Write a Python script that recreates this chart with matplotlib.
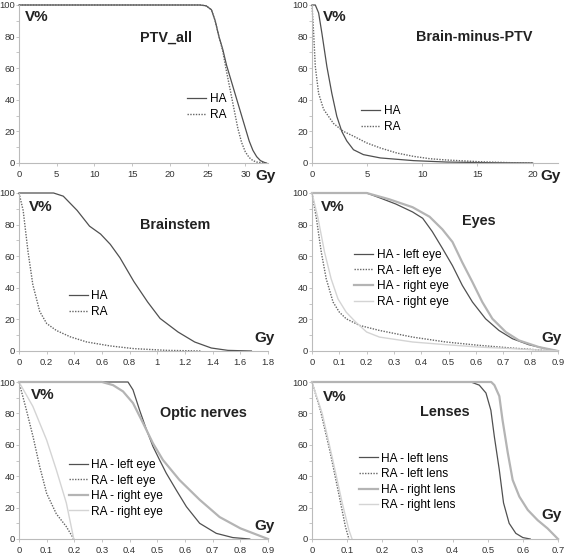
import numpy as np
import matplotlib
matplotlib.use("Agg")
import matplotlib.pyplot as plt

plt.rcParams['font.family'] = ['Liberation Sans', 'DejaVu Sans']

# --- PTV_all
ptv_ha_x = [0, 24, 24.8, 25.5, 26, 26.5, 27, 27.5, 28, 28.5, 29, 29.5, 30, 30.5, 31, 31.5, 32, 32.5, 32.8]
ptv_ha_y = [100, 100, 99.5, 97, 90, 80, 72, 62, 54, 46, 38, 30, 22, 14, 8, 4, 1.5, 0.4, 0]
ptv_ra_x = [0, 24, 24.8, 25.5, 26, 26.5, 27, 27.5, 28, 28.5, 29, 29.5, 30, 30.5, 31, 31.5, 32.5]
ptv_ra_y = [100, 100, 99.5, 97, 90, 80, 71, 58, 46, 34, 22, 13, 7, 3.5, 1.5, 0.6, 0]

# --- Brain-minus-PTV
bm_ha_x = [0, 0.3, 0.6, 0.9, 1.35, 1.8, 2.25, 2.7, 3.15, 3.76, 4.66, 6.2, 9.2, 12.2, 16, 20]
bm_ha_y = [100, 100, 95, 82, 61, 44, 29.5, 20, 14, 8.4, 5.3, 3.2, 1.5, 0.6, 0.2, 0]
bm_ra_x = [0, 0.15, 0.3, 0.6, 1.05, 1.95, 2.85, 3.76, 4.96, 6.2, 7.7, 9.2, 10.7, 12.2, 15.2, 18, 20]
bm_ra_y = [100, 82, 61, 44, 34, 25, 20, 17, 12.7, 9.5, 6.3, 4.2, 2.7, 1.9, 0.8, 0.2, 0]

# --- Brainstem
bs_ha_x = [0, 0.25, 0.32, 0.42, 0.51, 0.59, 0.66, 0.73, 0.83, 0.93, 1.02, 1.15, 1.27, 1.39, 1.51, 1.68]
bs_ha_y = [100, 100, 98, 89, 79, 74, 67.5, 59, 44, 31, 20.6, 12, 5.7, 1.9, 0.4, 0]
bs_ra_x = [0, 0.03, 0.065, 0.1, 0.15, 0.2, 0.27, 0.37, 0.49, 0.66, 0.83, 1.07, 1.32]
bs_ra_y = [100, 89, 63, 42, 25, 17.4, 13, 9, 5.7, 3.2, 1.5, 0.4, 0]

# --- Eyes
eye_ha_l_x = [0, 0.2, 0.247, 0.307, 0.368, 0.405, 0.44, 0.477, 0.514, 0.55, 0.587, 0.635, 0.684, 0.733, 0.793, 0.854, 0.9]
eye_ha_l_y = [100, 100, 97, 93, 88, 84, 75.6, 65, 54, 41.5, 31, 20.4, 13, 7.8, 4, 1.5, 0]
eye_ra_l_x = [0, 0.016, 0.034, 0.052, 0.077, 0.1, 0.125, 0.174, 0.247, 0.368, 0.49, 0.61, 0.73, 0.854, 0.9]
eye_ra_l_y = [100, 84, 62.5, 45.7, 31, 24.6, 20.4, 16.2, 13, 8.8, 5.7, 3.6, 1.9, 0.4, 0]
eye_ha_r_x = [0, 0.2, 0.283, 0.368, 0.43, 0.477, 0.514, 0.55, 0.587, 0.623, 0.66, 0.709, 0.757, 0.83, 0.9]
eye_ha_r_y = [100, 100, 96, 91, 85, 77, 69, 56, 43.6, 31, 20.4, 12, 6.7, 2.5, 0]
eye_ra_r_x = [0, 0.022, 0.046, 0.07, 0.095, 0.125, 0.16, 0.2, 0.247, 0.368, 0.49, 0.61, 0.73, 0.9]
eye_ra_r_y = [100, 84, 62.5, 45.7, 33, 24.6, 18.3, 12, 8.8, 5.7, 4, 2.5, 1.5, 0]

# --- Optic nerves
on_ha_l_x = [0, 0.394, 0.412, 0.436, 0.46, 0.484, 0.508, 0.532, 0.569, 0.605, 0.653, 0.713, 0.773, 0.834]
on_ha_l_y = [100, 100, 95, 82, 70, 59, 50.4, 42, 31, 20.6, 10, 3.6, 0.9, 0]
on_ra_l_x = [0, 0.027, 0.051, 0.075, 0.1, 0.135, 0.171, 0.198]
on_ra_l_y = [100, 82, 65, 46, 29, 16, 7.9, 0]
on_ha_r_x = [0, 0.3, 0.34, 0.376, 0.412, 0.448, 0.484, 0.52, 0.58, 0.653, 0.725, 0.8, 0.9]
on_ha_r_y = [100, 100, 98, 94, 86.6, 74, 61, 50.4, 37.6, 25, 14, 6.8, 0]
on_ra_r_x = [0, 0.05, 0.1, 0.135, 0.171, 0.198]
on_ra_r_y = [100, 84.5, 63, 44, 23, 0]

# --- Lenses
ln_ha_l_x = [0, 0.452, 0.476, 0.495, 0.509, 0.519, 0.533, 0.545, 0.561, 0.58, 0.6, 0.621]
ln_ha_l_y = [100, 100, 98, 93, 82, 65, 44, 23, 10, 3.6, 0.9, 0]
ln_ra_l_x = [0, 0.024, 0.052, 0.076, 0.095, 0.105]
ln_ra_l_y = [100, 82, 55, 29, 8, 0]
ln_ha_r_x = [0, 0.51, 0.519, 0.533, 0.542, 0.557, 0.571, 0.59, 0.614, 0.642, 0.67, 0.7]
ln_ha_r_y = [100, 100, 98, 91, 76, 55, 37.6, 27, 18.5, 12, 6.8, 0]
ln_ra_r_x = [0, 0.029, 0.057, 0.086, 0.105, 0.114]
ln_ra_r_y = [100, 80, 52.5, 23, 5.7, 0]

ha_style = dict(color='#505050', lw=0.9, ls='-')
ra_style = dict(color='#666666', lw=1.0, ls=(0, (1, 1)))
har_style = dict(color='#b4b4b4', lw=1.6, ls='-')
rar_style = dict(color='#d4d4d4', lw=1.0, ls='-')

W, H = 567, 557
fig = plt.figure(figsize=(W / 100, H / 100), dpi=100)

def make_ax(left, top, width, height):
    return fig.add_axes([left / W, 1 - (top + height) / H, width / W, height / H])

def style(ax, xmax, xticks):
    ax.set_xlim(0, xmax)
    ax.set_ylim(0, 100)
    ax.set_xticks(xticks)
    ax.set_xticklabels(['{:g}'.format(round(t, 2)) for t in xticks])
    ax.set_yticks([0, 20, 40, 60, 80, 100])
    ax.set_yticks([10, 30, 50, 70, 90], minor=True)
    for s in ['top', 'right']:
        ax.spines[s].set_visible(False)
    for s in ['left', 'bottom']:
        ax.spines[s].set_color('#bbbbbb')
        ax.spines[s].set_linewidth(0.8)
    ax.tick_params(which='both', direction='out', length=2, width=0.6,
                   color='#bbbbbb', labelsize=6.8, labelcolor='#333333')
    ax.tick_params(axis='y', pad=1)
    ax.tick_params(axis='x', pad=3)

def labels(ax, title, tpos, vpos, gpos):
    ax.text(tpos[0], tpos[1], title, transform=ax.transAxes, fontsize=10.4,
            fontweight='bold', ha='center', va='center', color='#222222')
    ax.text(vpos[0], vpos[1], 'V%', transform=ax.transAxes, fontsize=11,
            fontweight='bold', ha='center', va='center', color='#222222')
    ax.text(gpos[0], gpos[1], 'Gy', transform=ax.transAxes, fontsize=11,
            fontweight='bold', ha='center', va='center', color='#222222',
            clip_on=False)

def leg(ax, x, ytop, spacing):
    ax.legend(loc='upper left', bbox_to_anchor=(x, ytop), frameon=False,
              fontsize=8.6, handlelength=1.6, handletextpad=0.3,
              labelspacing=spacing, borderpad=0, borderaxespad=0)

# PTV_all
ax = make_ax(19, 5, 249, 158)
ax.plot(ptv_ha_x, ptv_ha_y, label='HA', clip_on=False, **ha_style)
ax.plot(ptv_ra_x, ptv_ra_y, label='RA', clip_on=False, **ra_style)
style(ax, 33, [0, 5, 10, 15, 20, 25, 30])
labels(ax, 'PTV_all', (0.59, 0.79), (0.073, 0.924), (0.99, -0.08))
leg(ax, 0.675, 0.44, 0.3)

# Brain-minus-PTV
ax = make_ax(312, 5, 246, 158)
ax.plot(bm_ha_x, bm_ha_y, label='HA', clip_on=False, **ha_style)
ax.plot(bm_ra_x, bm_ra_y, label='RA', clip_on=False, **ra_style)
style(ax, 22.3, [0, 5, 10, 15, 20])
labels(ax, 'Brain-minus-PTV', (0.66, 0.80), (0.094, 0.924), (0.97, -0.08))
leg(ax, 0.2, 0.365, 0.3)

# Brainstem
ax = make_ax(19, 193, 249, 158)
ax.plot(bs_ha_x, bs_ha_y, label='HA', clip_on=False, **ha_style)
ax.plot(bs_ra_x, bs_ra_y, label='RA', clip_on=False, **ra_style)
style(ax, 1.8, [0, 0.2, 0.4, 0.6, 0.8, 1.0, 1.2, 1.4, 1.6, 1.8])
labels(ax, 'Brainstem', (0.626, 0.80), (0.088, 0.91), (0.985, 0.08))
leg(ax, 0.2, 0.385, 0.3)

# Eyes
ax = make_ax(312, 193, 246, 158)
ax.plot(eye_ha_l_x, eye_ha_l_y, label='HA - left eye', clip_on=False, **ha_style)
ax.plot(eye_ra_l_x, eye_ra_l_y, label='RA - left eye', clip_on=False, **ra_style)
ax.plot(eye_ha_r_x, eye_ha_r_y, label='HA - right eye', clip_on=False, **har_style)
ax.plot(eye_ra_r_x, eye_ra_r_y, label='RA - right eye', clip_on=False, **rar_style)
style(ax, 0.9, [0, 0.1, 0.2, 0.3, 0.4, 0.5, 0.6, 0.7, 0.8, 0.9])
labels(ax, 'Eyes', (0.68, 0.82), (0.086, 0.91), (0.975, 0.08))
leg(ax, 0.17, 0.645, 0.3)

# Optic nerves
ax = make_ax(19, 382, 249, 157)
ax.plot(on_ha_l_x, on_ha_l_y, label='HA - left eye', clip_on=False, **ha_style)
ax.plot(on_ra_l_x, on_ra_l_y, label='RA - left eye', clip_on=False, **ra_style)
ax.plot(on_ha_r_x, on_ha_r_y, label='HA - right eye', clip_on=False, **har_style)
ax.plot(on_ra_r_x, on_ra_r_y, label='RA - right eye', clip_on=False, **rar_style)
style(ax, 0.9, [0, 0.1, 0.2, 0.3, 0.4, 0.5, 0.6, 0.7, 0.8, 0.9])
labels(ax, 'Optic nerves', (0.74, 0.80), (0.096, 0.917), (0.985, 0.08))
leg(ax, 0.2, 0.51, 0.3)

# Lenses
ax = make_ax(312, 382, 246, 157)
ax.plot(ln_ha_l_x, ln_ha_l_y, label='HA - left lens', clip_on=False, **ha_style)
ax.plot(ln_ra_l_x, ln_ra_l_y, label='RA - left lens', clip_on=False, **ra_style)
ax.plot(ln_ha_r_x, ln_ha_r_y, label='HA - right lens', clip_on=False, **har_style)
ax.plot(ln_ra_r_x, ln_ra_r_y, label='RA - right lens', clip_on=False, **rar_style)
style(ax, 0.7, [0, 0.1, 0.2, 0.3, 0.4, 0.5, 0.6, 0.7])
labels(ax, 'Lenses', (0.54, 0.81), (0.094, 0.904), (0.975, 0.15))
leg(ax, 0.19, 0.55, 0.3)

fig.savefig('out.png', dpi=100)
